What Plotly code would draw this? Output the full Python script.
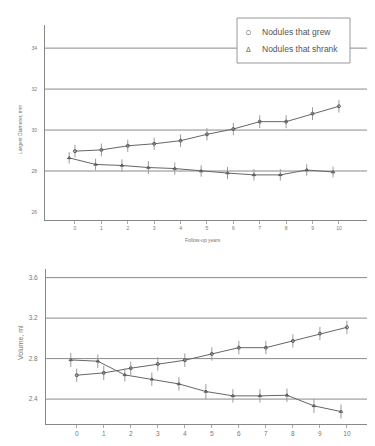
import plotly.graph_objects as go

years = list(range(11))
year_labels = [str(y) for y in years]

# Largest diameter (mm)
diam_grew = [28.97, 29.03, 29.23, 29.33, 29.48, 29.79, 30.05, 30.41, 30.41, 30.80, 31.16]
diam_grew_err = [0.31, 0.31, 0.30, 0.30, 0.31, 0.30, 0.30, 0.31, 0.32, 0.31, 0.31]
diam_shrank = [28.64, 28.32, 28.27, 28.17, 28.12, 28.00, 27.90, 27.81, 27.81, 28.05, 27.95]
diam_shrank_err = [0.28, 0.28, 0.30, 0.32, 0.30, 0.28, 0.30, 0.28, 0.28, 0.28, 0.26]
diam_ticks = [26, 28, 30, 32, 34]
diam_grid = [28, 30, 32, 34]

# Volume (ml)
vol_grew = [2.636, 2.659, 2.705, 2.747, 2.784, 2.846, 2.908, 2.908, 2.974, 3.047, 3.109]
vol_grew_err = [0.066, 0.07, 0.066, 0.066, 0.066, 0.066, 0.066, 0.066, 0.066, 0.066, 0.066]
vol_shrank = [2.787, 2.774, 2.639, 2.596, 2.550, 2.475, 2.432, 2.432, 2.438, 2.333, 2.277]
vol_shrank_err = [0.07, 0.066, 0.066, 0.066, 0.066, 0.075, 0.066, 0.066, 0.066, 0.07, 0.07]
vol_ticks = [2.4, 2.8, 3.2, 3.6]

series_names = ["Nodules that grew", "Nodules that shrank"]
legend_symbols = ["\u25CB", "\u0394"]

shrank_offset = -0.22

W, H = 375, 446
FONT = "Liberation Sans, Arial, sans-serif"
LINE = "#666666"
ERR = "#9a9a9a"
GRID = "#8a8a8a"

def px_x(a, b):
    return [a / W, b / W]

def px_y(top, bottom):
    return [(H - bottom) / H, (H - top) / H]

def pxx(v):
    return v / W

def pxy(v):
    return (H - v) / H

fig = go.Figure()

def add_series(x, y, err, name, symbol, xa, ya):
    fig.add_trace(go.Scatter(
        x=x, y=y, name=name, mode="lines+markers",
        xaxis=xa, yaxis=ya, showlegend=False,
        line=dict(color=LINE, width=1),
        marker=dict(symbol=symbol, size=3, color="#555555", line=dict(width=1, color="#555555")),
        error_y=dict(type="data", array=err, visible=True, color=ERR, thickness=1, width=0),
    ))

xs_shr = [y + shrank_offset for y in years]

add_series(years, diam_grew, diam_grew_err, series_names[0], "circle-open", "x", "y")
add_series(xs_shr, diam_shrank, diam_shrank_err, series_names[1], "triangle-up-open", "x", "y")
add_series(years, vol_grew, vol_grew_err, series_names[0], "circle-open", "x2", "y2")
add_series(xs_shr, vol_shrank, vol_shrank_err, series_names[1], "triangle-up-open", "x2", "y2")

shapes = []
for g in diam_grid:
    shapes.append(dict(type="line", xref="x domain", yref="y", x0=0, x1=1, y0=g, y1=g,
                       line=dict(color=GRID, width=1), layer="below"))
for g in vol_ticks:
    shapes.append(dict(type="line", xref="x2 domain", yref="y2", x0=0, x1=1, y0=g, y1=g,
                       line=dict(color=GRID, width=1), layer="below"))
# legend box (drawn manually)
shapes.append(dict(type="rect", xref="paper", yref="paper", x0=pxx(229), x1=pxx(342),
                   y0=pxy(55), y1=pxy(10), line=dict(color="#999999", width=1),
                   fillcolor="white", layer="above"))

annotations = [
    dict(text="Largest Diameter, mm", x=pxx(12), y=pxy(122), xref="paper", yref="paper",
         xanchor="center", yanchor="middle",
         textangle=-90, showarrow=False, font=dict(size=5, color="#777777")),
    dict(text="Follow-up years", x=pxx(195), y=pxy(232), xref="paper", yref="paper",
         xanchor="center", yanchor="middle",
         showarrow=False, font=dict(size=5, color="#777777")),
    dict(text="Volume, ml", x=pxx(12), y=pxy(335), xref="paper", yref="paper",
         xanchor="center", yanchor="middle",
         textangle=-90, showarrow=False, font=dict(size=7, color="#777777")),
]
for i, (nm, sym) in enumerate(zip(series_names, legend_symbols)):
    yy = 24 + 17 * i
    annotations.append(dict(text=sym, x=pxx(240), y=pxy(yy), xref="paper", yref="paper",
                            xanchor="center", yanchor="middle", showarrow=False,
                            font=dict(size=11 if i == 0 else 7, color="#555555")))
    annotations.append(dict(text=nm, x=pxx(252), y=pxy(yy), xref="paper", yref="paper",
                            xanchor="left", yanchor="middle", showarrow=False,
                            font=dict(size=8.5, color="#555555")))

common_x = dict(showgrid=False, zeroline=False, showline=True, linecolor="#888888", linewidth=1,
                ticks="outside", ticklen=3, tickcolor="#aaaaaa", tickvals=years, ticktext=year_labels)
common_y = dict(showgrid=False, zeroline=False, showline=True, linecolor="#888888", linewidth=1,
                ticks="", ticklabelstandoff=6)

fig.update_layout(
    width=W, height=H,
    margin=dict(l=0, r=0, t=0, b=0),
    paper_bgcolor="white", plot_bgcolor="white",
    font=dict(family=FONT, color="#666666"),
    showlegend=False,
    xaxis=dict(domain=px_x(37, 361), range=[-1.136, 11.14], anchor="y",
               tickfont=dict(size=5, color="#777777"), **common_x),
    yaxis=dict(domain=px_y(17, 212), range=[25.607, 35.13], anchor="x",
               tickvals=diam_ticks, tickfont=dict(size=5, color="#777777"), **common_y),
    xaxis2=dict(domain=px_x(38, 370), range=[-1.137, 11.15], anchor="y2",
                tickfont=dict(size=6.5, color="#777777"), **common_x),
    yaxis2=dict(domain=px_y(261, 416), range=[2.154, 3.685], anchor="x2",
                tickvals=vol_ticks, tickformat=".1f", tickfont=dict(size=6.5, color="#777777"), **common_y),
    shapes=shapes,
    annotations=annotations,
)

fig.write_html("out.html")
